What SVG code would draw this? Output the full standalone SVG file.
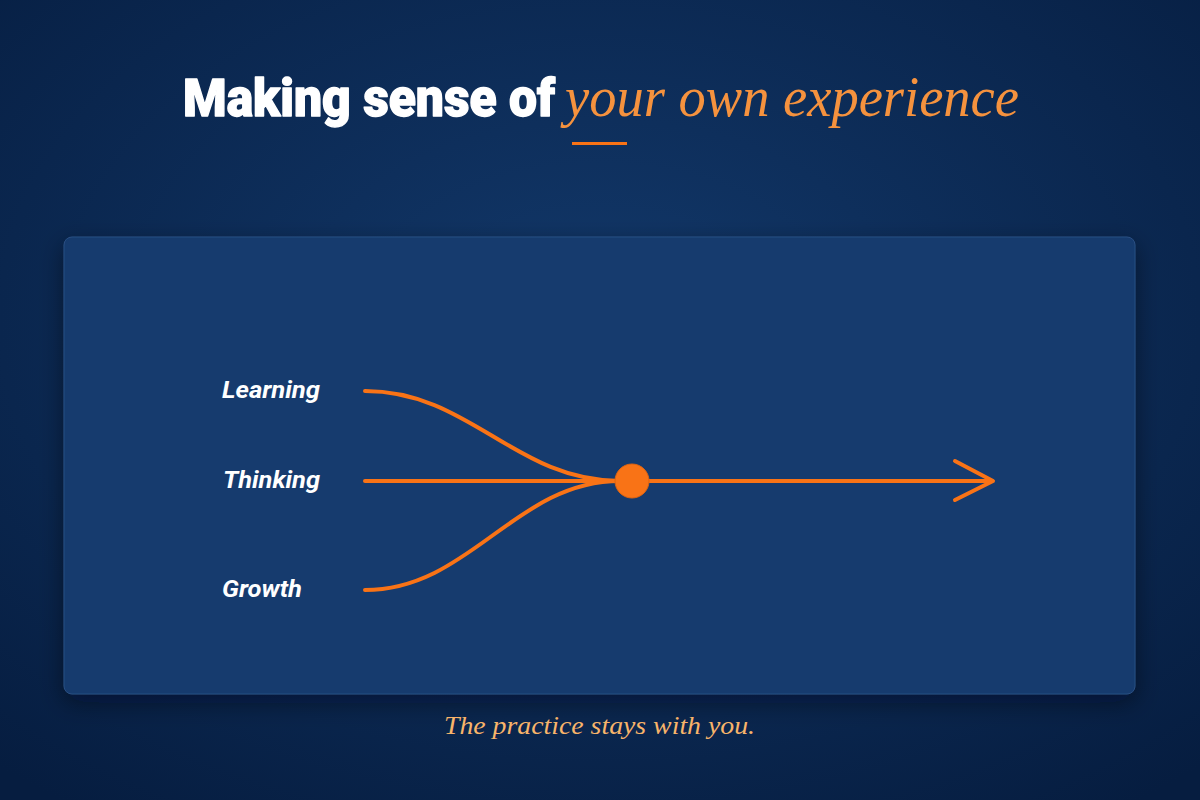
<svg xmlns="http://www.w3.org/2000/svg" width="1200" height="800" viewBox="0 0 1200 800">
  <defs>
    <radialGradient id="bg" cx="50%" cy="40%" r="75%">
      <stop offset="0" stop-color="#12386a"/>
      <stop offset="1" stop-color="#061d40"/>
    </radialGradient>
    <filter id="shadow" x="-10%" y="-10%" width="120%" height="130%">
      <feDropShadow dx="0" dy="8" stdDeviation="12" flood-color="#000814" flood-opacity="0.45"/>
    </filter>
    <style>
      .title { font-family: Roboto, "Liberation Sans", sans-serif; font-weight: 900; font-size: 51px; fill: #ffffff; stroke: #ffffff; stroke-width: 1.3; stroke-linejoin: round; }
      .accent { font-family: "Liberation Serif", "DejaVu Serif", serif; font-style: italic; font-size: 56px; fill: #f5923e; }
      .label { font-family: Roboto, "Liberation Sans", sans-serif; font-weight: 700; font-style: italic; font-size: 23px; fill: #ffffff; }
      .caption { font-family: "Liberation Serif", "DejaVu Serif", serif; font-style: italic; font-size: 26px; fill: #f8b46a; }
      .flow { fill: none; stroke: #f97316; stroke-width: 4; stroke-linecap: round; stroke-linejoin: round; }
    </style>
  </defs>

  <rect x="0" y="0" width="1200" height="800" fill="url(#bg)"/>

  <g id="title">
    <text class="title" x="183" y="116" textLength="372" lengthAdjust="spacingAndGlyphs">Making sense of</text>
    <text class="accent" x="565" y="116" textLength="454" lengthAdjust="spacingAndGlyphs">your own experience</text>
    <rect x="572" y="142" width="55" height="3" fill="#f97316"/>
  </g>

  <g id="card">
    <rect x="64" y="237" width="1071" height="457" rx="8" fill="#143a6e" stroke="#2a4f82" stroke-width="1" filter="url(#shadow)"/>
  </g>

  <g id="labels">
    <g id="node-learning"><text class="label" x="222" y="398" textLength="98" lengthAdjust="spacingAndGlyphs">Learning</text></g>
    <g id="node-thinking"><text class="label" x="223" y="488" textLength="97" lengthAdjust="spacingAndGlyphs">Thinking</text></g>
    <g id="node-growth"><text class="label" x="222" y="597" textLength="80" lengthAdjust="spacingAndGlyphs">Growth</text></g>
  </g>

  <g id="connectors">
    <path class="flow" d="M365,391 C470,391 515,481 620,481"/>
    <path class="flow" d="M365,481 L620,481"/>
    <path class="flow" d="M365,590 C470,590 515,481 620,481"/>
    <path class="flow" d="M632,481 L990,481"/>
    <path class="flow" d="M955,461 L993,481 L955,500"/>
  </g>

  <g id="node-merge">
    <circle cx="632" cy="481" r="17" fill="#f97316" stroke="#e0640f" stroke-width="1"/>
  </g>

  <g id="caption">
    <text class="caption" x="444" y="734" textLength="311" lengthAdjust="spacingAndGlyphs">The practice stays with you.</text>
  </g>
</svg>
